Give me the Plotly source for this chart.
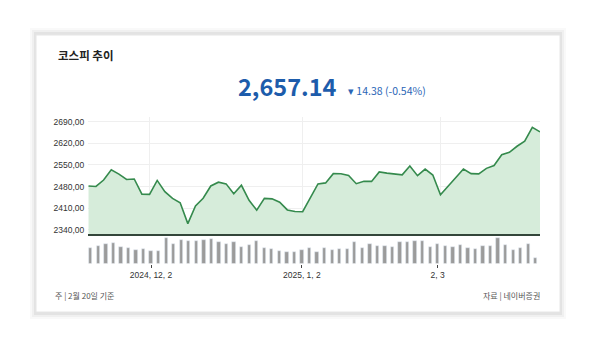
import plotly.graph_objects as go

dates = ["2024-11-20","2024-11-21","2024-11-22","2024-11-25","2024-11-26","2024-11-27","2024-11-28","2024-11-29",
         "2024-12-02","2024-12-03","2024-12-04","2024-12-05","2024-12-06","2024-12-09","2024-12-10","2024-12-11",
         "2024-12-12","2024-12-13","2024-12-16","2024-12-17","2024-12-18","2024-12-19","2024-12-20","2024-12-23",
         "2024-12-24","2024-12-26","2024-12-27","2024-12-30","2025-01-02","2025-01-03","2025-01-06","2025-01-07",
         "2025-01-08","2025-01-09","2025-01-10","2025-01-13","2025-01-14","2025-01-15","2025-01-16","2025-01-17",
         "2025-01-20","2025-01-21","2025-01-22","2025-01-23","2025-01-24","2025-01-31","2025-02-03","2025-02-04",
         "2025-02-05","2025-02-06","2025-02-07","2025-02-10","2025-02-11","2025-02-12","2025-02-13","2025-02-14",
         "2025-02-17","2025-02-18","2025-02-19","2025-02-20"]

close = [2482.29, 2480.63, 2501.24, 2534.34, 2520.36, 2503.06, 2504.67, 2455.91,
         2455.16, 2500.10, 2464.00, 2441.85, 2428.16, 2360.58, 2417.84, 2442.51,
         2482.12, 2494.46, 2488.97, 2456.81, 2484.43, 2435.93, 2404.15, 2442.01,
         2440.52, 2429.67, 2404.77, 2399.49, 2398.94, 2441.92, 2488.64, 2492.10,
         2521.90, 2521.50, 2515.78, 2489.56, 2497.52, 2496.91, 2527.49, 2523.55,
         2520.05, 2518.03, 2547.06, 2515.49, 2536.80, 2517.37, 2453.95, 2481.69,
         2509.39, 2536.75, 2521.92, 2521.27, 2539.05, 2548.39, 2583.17, 2591.05,
         2610.42, 2626.81, 2671.52, 2657.14]

# trading volume (million shares)
volume = [320, 346, 400, 414, 334, 314, 266, 290, 246, 246, 504, 386, 470, 454, 454, 464,
          490, 436, 400, 424, 334, 370, 460, 320, 286, 246, 234, 230, 276, 304, 228, 304,
          276, 296, 286, 436, 316, 400, 344, 344, 340, 440, 440, 460, 454, 334, 386, 354,
          334, 366, 314, 300, 346, 346, 506, 380, 280, 320, 394, 106]

y_ticks = [2340, 2410, 2480, 2550, 2620, 2690]
y_tick_labels = ["2340,00", "2410,00", "2480,00", "2550,00", "2620,00", "2690,00"]
x_tick_idx = [8, 28, 46]
x_tick_labels = ["2024, 12, 2", "2025, 1, 2", "2, 3"]

title = "코스피 추이"
last_value = "2,657.14"
change_text = "▾ 14.38 (-0.54%)"
note_left = "주 | 2월 20일 기준"
note_right = "자료 | 네이버증권"

W, H = 600, 340
def px(x): return x / W
def py(y): return 1 - y / H

idx = list(range(len(close)))

fig = go.Figure()
fig.add_trace(go.Scatter(
    x=idx, y=close, mode="lines", fill="tozeroy",
    line=dict(color="#358a4d", width=1.6),
    fillcolor="#d6ecda", customdata=dates,
    hovertemplate="%{customdata}<br>%{y:,.2f}<extra></extra>",
    xaxis="x", yaxis="y"))
fig.add_trace(go.Bar(
    x=idx, y=volume, marker_color="#9b9b9b", width=0.44,
    customdata=dates, hovertemplate="%{customdata}<br>%{y}<extra></extra>",
    xaxis="x2", yaxis="y2"))

font_kr = "Noto Sans CJK KR"
tick_font = dict(family="Liberation Sans, Arial", size=8.5, color="#333333")
fig.update_layout(
    width=W, height=H, autosize=False,
    margin=dict(l=0, r=0, t=0, b=0),
    paper_bgcolor="#ffffff", plot_bgcolor="rgba(0,0,0,0)",
    showlegend=False, bargap=0,
    xaxis=dict(domain=[px(88.3), px(540)], range=[0, 59], tickvals=x_tick_idx,
               showticklabels=False, showgrid=True, gridcolor="#efefef", gridwidth=1,
               zeroline=False, showline=True, linecolor="#33463a", linewidth=1.6,
               ticks=""),
    yaxis=dict(domain=[py(234), py(117)], range=[2327, 2705], tickvals=y_ticks,
               ticktext=y_tick_labels, showgrid=True, gridcolor="#efefef", gridwidth=1,
               zeroline=False, ticks="", ticklabelstandoff=3, tickfont=tick_font),
    xaxis2=dict(domain=[px(86.9), px(539.5)], range=[-0.5, 59.5], anchor="y2",
                tickvals=x_tick_idx, ticktext=x_tick_labels, showgrid=False,
                zeroline=False, showline=False, ticks="outside", ticklen=3,
                tickcolor="#444444", tickwidth=1, tickfont=tick_font),
    yaxis2=dict(domain=[py(263.5), py(236)], range=[0, 550], anchor="x2",
                showticklabels=False, showgrid=False, zeroline=False),
)

# card and shadow
shapes = []
for i, o in enumerate([0.025, 0.035, 0.05]):
    d = 6 - 2 * i
    shapes.append(dict(type="rect", xref="paper", yref="paper",
                       x0=px(36 - d), x1=px(560 + d), y0=py(313 + d), y1=py(34 - d),
                       fillcolor="#000000", opacity=o, line=dict(width=0), layer="below"))
shapes.append(dict(type="rect", xref="paper", yref="paper",
                   x0=px(36), x1=px(560), y0=py(312), y1=py(35),
                   fillcolor="#ffffff", line=dict(color="#e6e6e6", width=1), layer="below"))
fig.update_layout(shapes=shapes)

ann = [
    dict(x=px(56), y=py(55), text=f"<b>{title}</b>", xanchor="left", yanchor="middle",
         font=dict(family=font_kr, size=11.5, color="#222222")),
    dict(x=px(339), y=py(86), text=f"<b>{last_value}</b>", xanchor="right", yanchor="middle",
         font=dict(family=font_kr, size=23.5, color="#1d5cab")),
    dict(x=px(346), y=py(91), text=change_text, xanchor="left", yanchor="middle",
         font=dict(family=font_kr, size=10.5, color="#2b66b6")),
    dict(x=px(53), y=py(295), text=note_left, xanchor="left", yanchor="middle",
         font=dict(family=font_kr, size=8, color="#555555")),
    dict(x=px(542), y=py(295), text=note_right, xanchor="right", yanchor="middle",
         font=dict(family=font_kr, size=8, color="#555555")),
]
for a in ann:
    a.update(xref="paper", yref="paper", showarrow=False)
fig.update_layout(annotations=ann)

fig.write_html("out.html")
